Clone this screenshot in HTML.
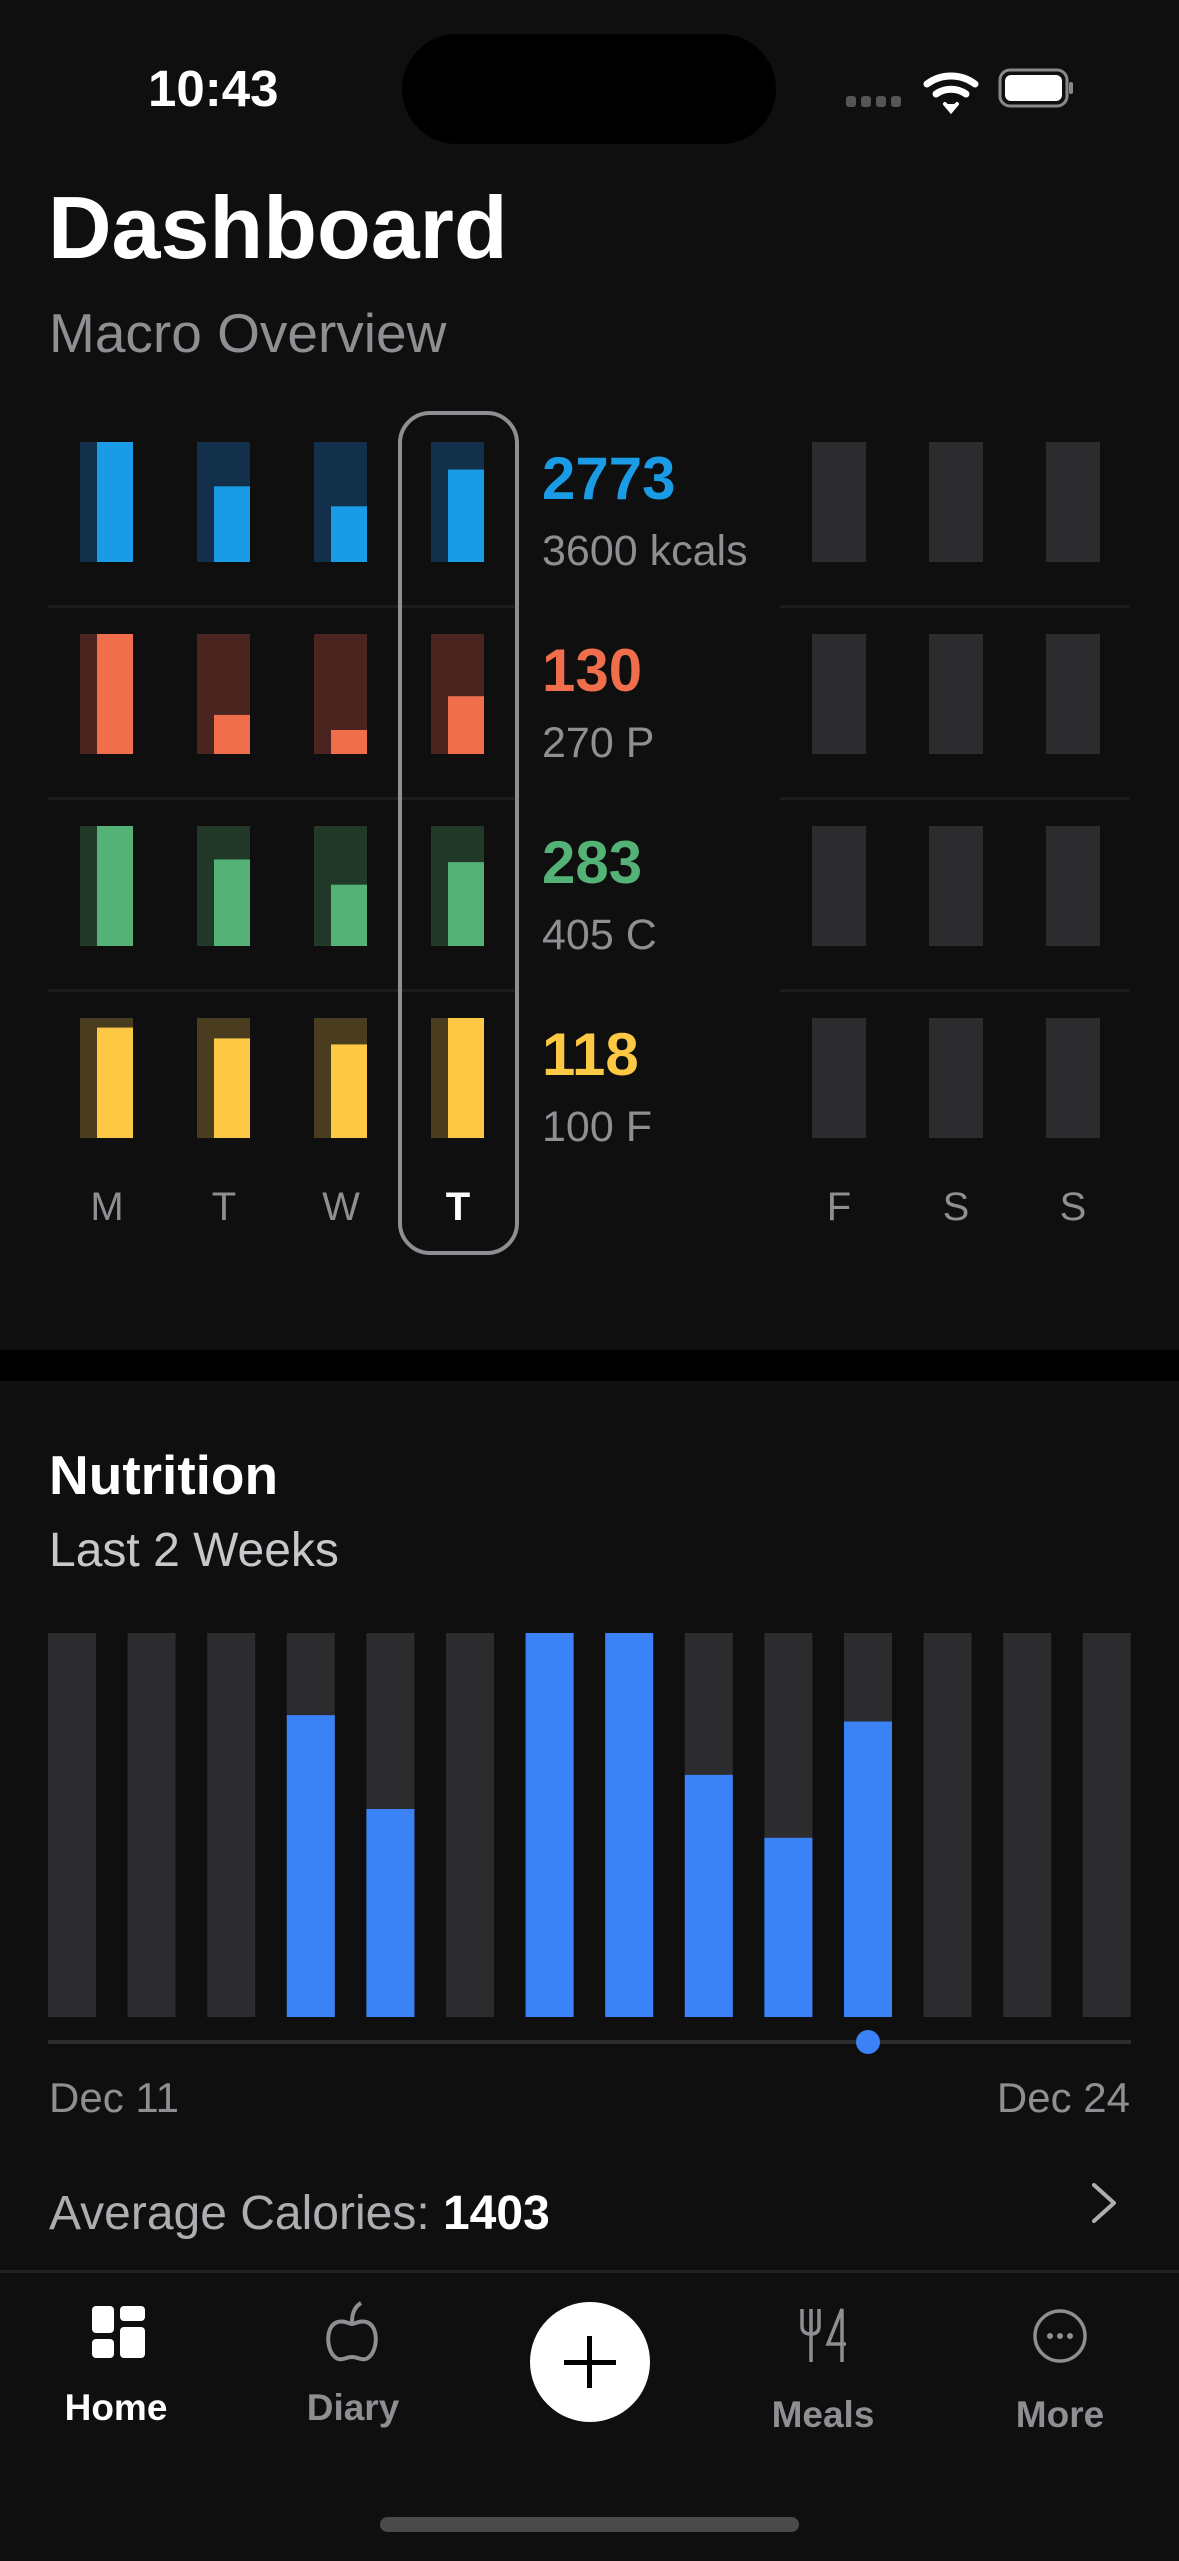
<!DOCTYPE html>
<html><head><meta charset="utf-8"><style>
html,body{margin:0;padding:0;background:#0f0f0f;}
body{width:1179px;height:2556px;overflow:hidden;font-family:"Liberation Sans",sans-serif;}
svg text{font-family:"Liberation Sans",sans-serif;}
</style></head><body>
<svg id="root" width="1179" height="2556" viewBox="0 0 1179 2556" xmlns="http://www.w3.org/2000/svg">
<rect x="0" y="0" width="1179" height="2556" fill="#0f0f0f"/>
<text x="148" y="106" font-size="51" font-weight="bold" fill="#fff">10:43</text>
<rect x="402" y="34" width="374" height="110" rx="55" fill="#000"/>
<g fill="#555"><rect x="846" y="96" width="10" height="11" rx="3"/><rect x="861" y="96" width="10" height="11" rx="3"/><rect x="876" y="96" width="10" height="11" rx="3"/><rect x="891" y="96" width="10" height="11" rx="3"/></g>
<g fill="none" stroke="#fff" stroke-width="7" stroke-linecap="round"><path d="M927 84 A40 40 0 0 1 975 84"/><path d="M936 94 A26 26 0 0 1 966 94"/><path d="M945 104 L951 111 L957 104" fill="#fff" stroke-width="4"/></g>
<g><rect x="1000" y="70" width="67" height="36" rx="10" fill="none" stroke="#888" stroke-width="3"/><rect x="1005" y="75" width="57" height="26" rx="6" fill="#fff"/><rect x="1069" y="82" width="4" height="12" rx="2" fill="#888"/></g>
<text x="48" y="258" font-size="88" font-weight="bold" fill="#fff">Dashboard</text>
<text x="49" y="352" font-size="55" fill="#8e8e93">Macro Overview</text>
<g id="macro"></g>
<rect x="0" y="1350" width="1179" height="31" fill="#000"/>
<text x="49" y="1494" font-size="55" font-weight="bold" fill="#fff">Nutrition</text>
<text x="49" y="1566" font-size="48" fill="#c7c7cc">Last 2 Weeks</text>
<g id="nutri"></g>
<rect x="48" y="2040" width="1083" height="4" fill="#2c2c2e"/>
<text x="49" y="2112" font-size="42" fill="#8e8e93">Dec 11</text>
<text x="1130" y="2112" font-size="42" fill="#8e8e93" text-anchor="end">Dec 24</text>
<text x="49" y="2229" font-size="48" fill="#aeaeb2">Average Calories: <tspan font-weight="bold" fill="#fff">1403</tspan></text>
<path d="M1094 2185 L1114 2203 L1094 2221" fill="none" stroke="#aeaeb2" stroke-width="4" stroke-linecap="round" stroke-linejoin="round"/>
<rect x="0" y="2270" width="1179" height="3" fill="#222"/>
<g>
<g fill="#fff"><rect x="92" y="2306" width="22" height="27" rx="4"/><rect x="120" y="2306" width="25" height="15" rx="4"/><rect x="120" y="2327" width="25" height="31" rx="4"/><rect x="92" y="2339" width="22" height="19" rx="4"/></g>
<text x="116" y="2420" font-size="37" font-weight="bold" fill="#fff" text-anchor="middle">Home</text></g>
<g>
<path d="M338 2322 C325 2325 326 2350 335 2357 C340 2362 346 2357 352 2357 C358 2357 364 2362 369 2357 C378 2350 379 2325 366 2322 C360 2320 355 2324 352 2324 C349 2324 344 2320 338 2322 Z M352 2322 C352 2312 356 2306 361 2303" fill="none" stroke="#8e8e93" stroke-width="4"/>
<text x="353" y="2420" font-size="37" font-weight="bold" fill="#8e8e93" text-anchor="middle">Diary</text></g>
<g><circle cx="590" cy="2362" r="60" fill="#fff"/><rect x="564" y="2360" width="52" height="5" fill="#000"/><rect x="587" y="2336" width="5" height="52" fill="#000"/></g>
<g>
<path d="M802 2309 V2326 Q802 2334 811 2334 Q819 2334 819 2326 V2309 M811 2309 V2362 M842 2362 V2309 L828 2344 H846" fill="none" stroke="#8e8e93" stroke-width="3.5"/>
<text x="823" y="2427" font-size="37" font-weight="bold" fill="#8e8e93" text-anchor="middle">Meals</text></g>
<g>
<circle cx="1060" cy="2336" r="25" fill="none" stroke="#8e8e93" stroke-width="3.5"/><circle cx="1050" cy="2336" r="3" fill="#8e8e93"/><circle cx="1060" cy="2336" r="3" fill="#8e8e93"/><circle cx="1070" cy="2336" r="3" fill="#8e8e93"/>
<text x="1060" y="2427" font-size="37" font-weight="bold" fill="#8e8e93" text-anchor="middle">More</text></g>
<rect x="380" y="2517" width="419" height="15" rx="7.5" fill="#4a4a4a"/>
</svg>
<script>
const days = ["M","T","W","T","F","S","S"];
const macroNames = ["calories","protein","carbs","fat"];
const macroGoals = [3600, 270, 405, 100];
const macroCal = [3600, 2270, 1670, 2773];
const macroProt = [270, 88, 54, 130];
const macroCarb = [405, 292, 207, 283];
const macroFat = [92, 83, 78, 118];
const macroUnits = ["kcals","P","C","F"];
const selectedDay = 3;
const nutriDates = ["Dec 11","Dec 12","Dec 13","Dec 14","Dec 15","Dec 16","Dec 17","Dec 18","Dec 19","Dec 20","Dec 21","Dec 22","Dec 23","Dec 24"];
const nutriCalories = [0,0,0,2830,1950,0,3600,3600,2270,1680,2770,0,0,0];
const nutriGoal = 3600;
const sliderIndex = 10;

const NS="http://www.w3.org/2000/svg";
function mk(tag,attrs,parent){const e=document.createElementNS(NS,tag);for(const k in attrs)e.setAttribute(k,attrs[k]);parent.appendChild(e);return e;}
const macroSeries=[macroCal,macroProt,macroCarb,macroFat];
const fgC=["#1a9be6","#f06e4c","#55b276","#fdc944"];
const bgC=["#12304a","#4a2520","#223829","#4a3d1f"];
const mg=document.getElementById('macro');
const colX=i=> i<4 ? 80+117*i : 812+117*(i-4);
const rowY=r=>442+192*r;
const barH=120;
const yScale=(v,goal)=>barH*Math.min(v/goal,1);
for(let r=0;r<4;r++){
  if(r>0){
    const s1=mk('rect',{x:48,y:rowY(r)-29,width:467,height:3,fill:'#1c1c1e'},mg);
    
    
    const s2=mk('rect',{x:780,y:rowY(r)-29,width:350,height:3,fill:'#1c1c1e'},mg);
    
    
  }
  for(let d=0;d<7;d++){
    const x=colX(d), y=rowY(r);
    if(d<macroSeries[r].length){
      const b=mk('rect',{x:x,y:y,width:53,height:barH,fill:bgC[r]},mg);
      
      
      const h=yScale(macroSeries[r][d],macroGoals[r]);
      const f=mk('rect',{x:x+17,y:y+barH-h,width:36,height:h,fill:fgC[r]},mg);
      
      
    } else {
      const b=mk('rect',{x:x,y:y,width:54,height:barH,fill:'#2c2c2e'},mg);
      
      
    }
  }
  const v=mk('text',{x:542,y:rowY(r)+57,'font-size':60,'font-weight':'bold',fill:fgC[r]},mg);
  v.textContent=macroSeries[r][selectedDay];
  
  
  const g=mk('text',{x:542,y:rowY(r)+123,'font-size':43,fill:'#8e8e93'},mg);
  g.textContent=macroGoals[r]+' '+macroUnits[r];
  
  
}
const sel=mk('rect',{x:400,y:413,width:117,height:840,rx:30,fill:'none',stroke:'#8e8e93','stroke-width':4},mg);


for(let d=0;d<7;d++){
  const t=mk('text',{x:colX(d)+27,y:1220,'font-size':40,'text-anchor':'middle',fill:d===selectedDay?'#fff':'#8e8e93','font-weight':d===selectedDay?'bold':'normal'},mg);
  t.textContent=days[d];
  
  
}
const ng=document.getElementById('nutri');
const nTop=1633,nBot=2017,nH=nBot-nTop;
const nx=i=>48+i*79.6;
const ny=v=>nH*Math.min(v/nutriGoal,1);
nutriCalories.forEach((v,i)=>{
  const b=mk('rect',{x:nx(i),y:nTop,width:48,height:nH,fill:'#2c2c2e'},ng);
  
  
  if(v>0){
    const h=ny(v);
    const f=mk('rect',{x:nx(i),y:nBot-h,width:48,height:h,fill:'#3b82f6'},ng);
    
    
  }
});
const dot=mk('ellipse',{cx:nx(sliderIndex)+24,cy:2042,rx:12,ry:12,fill:'#3b82f6'},document.getElementById('root'));


</script>
</body></html>
